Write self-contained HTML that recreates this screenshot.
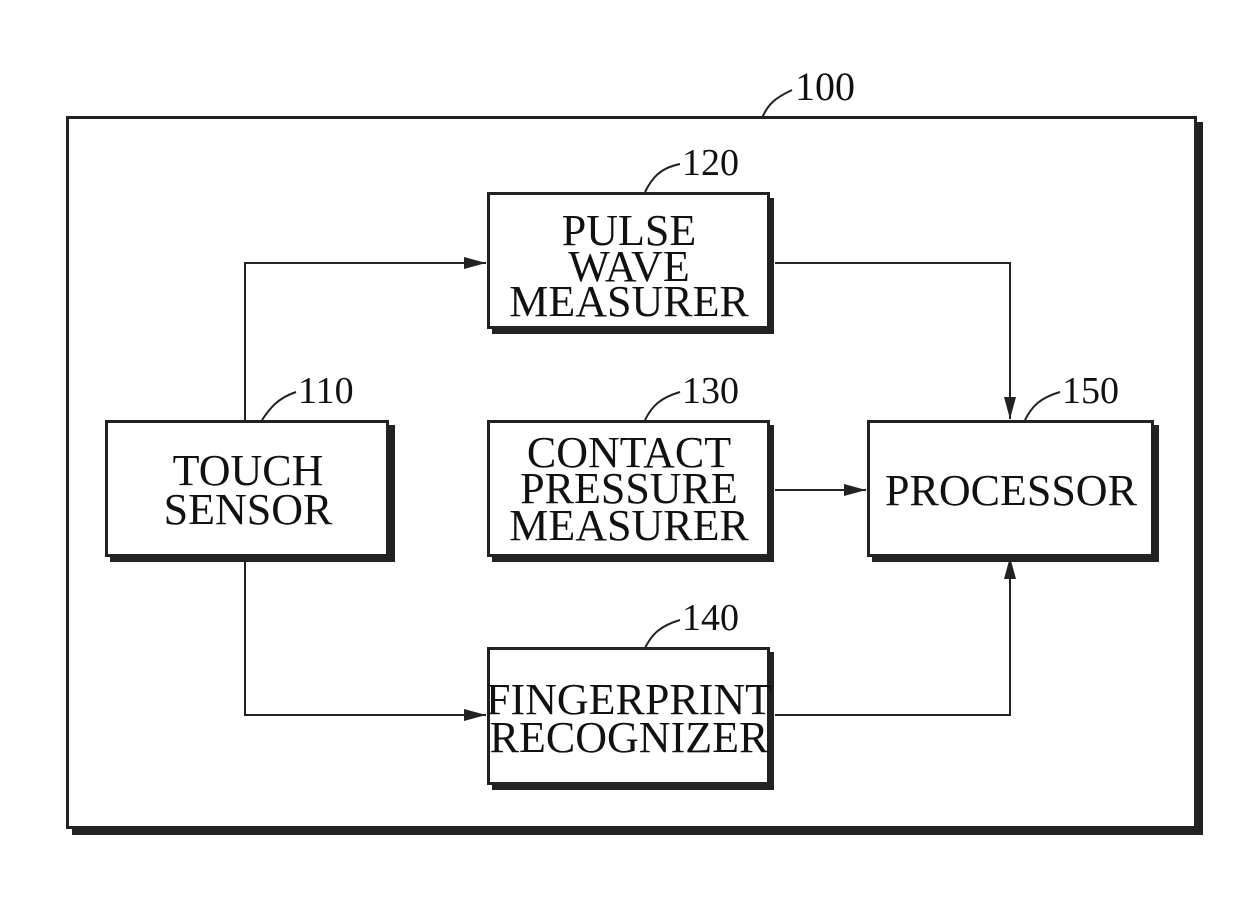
<!DOCTYPE html>
<html><head><meta charset="utf-8"><style>
html,body{margin:0;padding:0;background:#fff;}
svg{display:block;}
text{font-family:"Liberation Serif",serif;fill:#111;}
</style></head><body>
<svg width="1240" height="915" viewBox="0 0 1240 915" xmlns="http://www.w3.org/2000/svg">
<defs>
<marker id="a" markerWidth="22" markerHeight="14" refX="22" refY="7" orient="auto" markerUnits="userSpaceOnUse">
<path d="M0,1 L22,7 L0,13 Z" fill="#222"/>
</marker>
</defs>
<!-- outer box -->
<rect x="72" y="122" width="1131" height="713" fill="#222"/>
<rect x="67.5" y="117.5" width="1128" height="710" fill="#fff" stroke="#222" stroke-width="3"/>
<text x="795" y="100" font-size="40">100</text>
<path d="M762,118 C768,104 775,98 792,90" fill="none" stroke="#222" stroke-width="2"/>

<!-- boxes with shadow -->
<g stroke="#222" stroke-width="3" fill="#fff">
<rect x="492" y="198" width="282" height="136" fill="#222" stroke="none"/>
<rect x="488.5" y="193.5" width="280" height="134"/>
<rect x="110" y="425" width="285" height="137" fill="#222" stroke="none"/>
<rect x="106.5" y="421.5" width="281" height="134"/>
<rect x="492" y="425" width="282" height="137" fill="#222" stroke="none"/>
<rect x="488.5" y="421.5" width="280" height="134"/>
<rect x="872" y="425" width="287" height="137" fill="#222" stroke="none"/>
<rect x="868.5" y="421.5" width="284" height="134"/>
<rect x="492" y="652" width="282" height="138" fill="#222" stroke="none"/>
<rect x="488.5" y="648.5" width="280" height="135"/>
</g>

<!-- connectors -->
<g fill="none" stroke="#222" stroke-width="2">
<path d="M245,420 L245,263 L486,263" marker-end="url(#a)"/>
<path d="M245,556 L245,715 L486,715" marker-end="url(#a)"/>
<path d="M775,263 L1010,263 L1010,419" marker-end="url(#a)"/>
<path d="M775,490 L866,490" marker-end="url(#a)"/>
<path d="M775,715 L1010,715 L1010,557" marker-end="url(#a)"/>
<!-- leaders -->
<path d="M645,192 C652,178 660,168 680,164"/>
<path d="M262,420 C270,408 278,398 296,392"/>
<path d="M645,420 C652,406 660,398 680,392"/>
<path d="M1025,420 C1032,406 1040,398 1060,392"/>
<path d="M645,648 C652,634 660,626 680,620"/>
</g>

<!-- reference labels -->
<g font-size="38">
<text x="682" y="175">120</text>
<text x="298" y="403">110</text>
<text x="682" y="403">130</text>
<text x="1062" y="403">150</text>
<text x="682" y="630">140</text>
</g>

<!-- box text -->
<g font-size="44" text-anchor="middle">
<text x="629" y="245">PULSE</text>
<text x="629" y="281">WAVE</text>
<text x="629" y="316">MEASURER</text>
<text x="248" y="485">TOUCH</text>
<text x="248" y="524">SENSOR</text>
<text x="629" y="467">CONTACT</text>
<text x="629" y="503">PRESSURE</text>
<text x="629" y="540">MEASURER</text>
<text x="1011" y="505">PROCESSOR</text>
<text x="629" y="714">FINGERPRINT</text>
<text x="629" y="752">RECOGNIZER</text>
</g>
</svg>
</body></html>
